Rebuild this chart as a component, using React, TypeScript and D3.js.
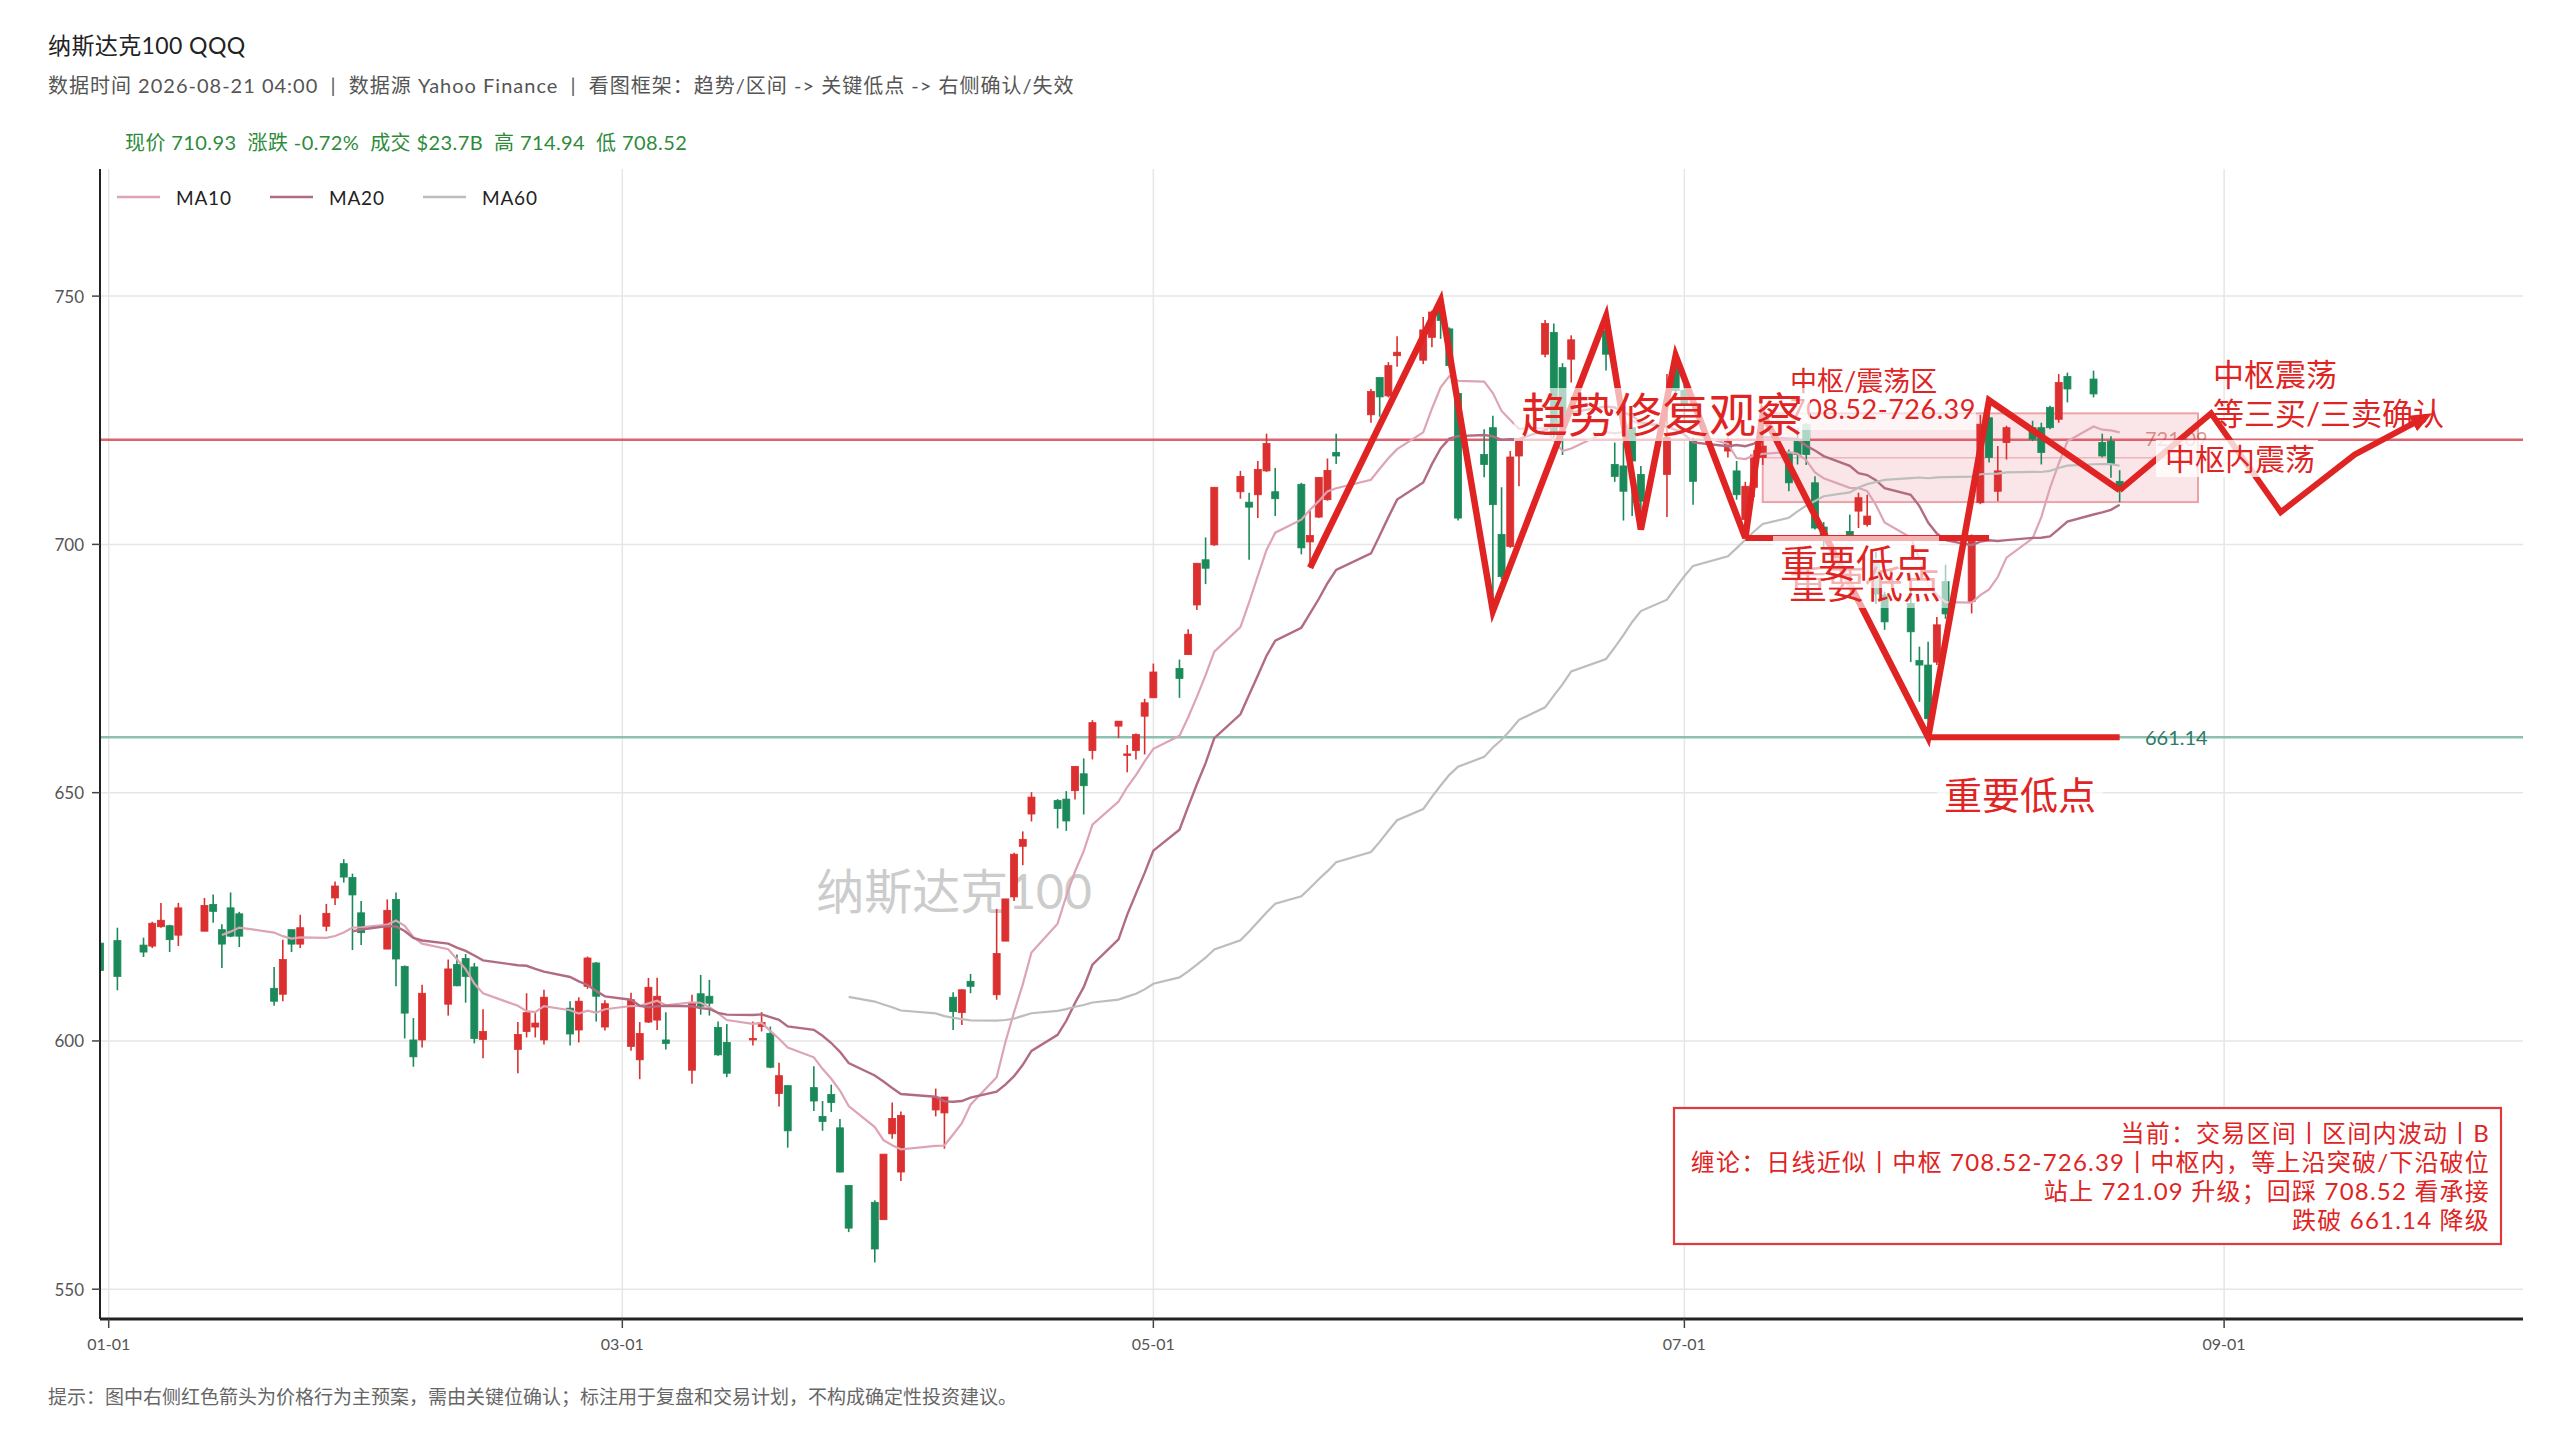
import React from "react";
import * as d3 from "d3";

// ---------------- data ----------------
const tradeDates = [
  "2025-12-31",
  "2026-01-02","2026-01-05","2026-01-06","2026-01-07","2026-01-08","2026-01-09","2026-01-12","2026-01-13","2026-01-14","2026-01-15","2026-01-16","2026-01-20","2026-01-21","2026-01-22","2026-01-23","2026-01-26","2026-01-27","2026-01-28","2026-01-29","2026-01-30",
  "2026-02-02","2026-02-03","2026-02-04","2026-02-05","2026-02-06","2026-02-09","2026-02-10","2026-02-11","2026-02-12","2026-02-13","2026-02-17","2026-02-18","2026-02-19","2026-02-20","2026-02-23","2026-02-24","2026-02-25","2026-02-26","2026-02-27",
  "2026-03-02","2026-03-03","2026-03-04","2026-03-05","2026-03-06","2026-03-09","2026-03-10","2026-03-11","2026-03-12","2026-03-13","2026-03-16","2026-03-17","2026-03-18","2026-03-19","2026-03-20","2026-03-23","2026-03-24","2026-03-25","2026-03-26","2026-03-27","2026-03-30","2026-03-31",
  "2026-04-01","2026-04-02","2026-04-06","2026-04-07","2026-04-08","2026-04-09","2026-04-10","2026-04-13","2026-04-14","2026-04-15","2026-04-16","2026-04-17","2026-04-20","2026-04-21","2026-04-22","2026-04-23","2026-04-24","2026-04-27","2026-04-28","2026-04-29","2026-04-30",
  "2026-05-01","2026-05-04","2026-05-05","2026-05-06","2026-05-07","2026-05-08","2026-05-11","2026-05-12","2026-05-13","2026-05-14","2026-05-15","2026-05-18","2026-05-19","2026-05-20","2026-05-21","2026-05-22","2026-05-26","2026-05-27","2026-05-28","2026-05-29",
  "2026-06-01","2026-06-02","2026-06-03","2026-06-04","2026-06-05","2026-06-08","2026-06-09","2026-06-10","2026-06-11","2026-06-12","2026-06-15","2026-06-16","2026-06-17","2026-06-18","2026-06-22","2026-06-23","2026-06-24","2026-06-25","2026-06-26","2026-06-29","2026-06-30",
  "2026-07-01","2026-07-02","2026-07-06","2026-07-07","2026-07-08","2026-07-09","2026-07-10","2026-07-13","2026-07-14","2026-07-15","2026-07-16","2026-07-17","2026-07-20","2026-07-21","2026-07-22","2026-07-23","2026-07-24","2026-07-27","2026-07-28","2026-07-29","2026-07-30","2026-07-31",
  "2026-08-03","2026-08-04","2026-08-05","2026-08-06","2026-08-07","2026-08-10","2026-08-11","2026-08-12","2026-08-13","2026-08-14","2026-08-17","2026-08-18","2026-08-19","2026-08-20",
];

const openPx = [
  619.7,
  620.2, 619.3, 619.1, 623.0, 623.2, 621.3, 622.1, 627.5, 622.4, 626.8, 625.6, 610.6, 609.4, 622.4, 619.5, 623.1, 628.8, 635.7, 632.9, 625.8,
  618.5, 628.5, 615.0, 600.2, 600.2, 607.4, 615.4, 616.6, 614.9, 600.3, 598.3, 601.9, 602.8, 600.2, 606.6, 602.2, 611.0, 615.7, 602.8,
  598.9, 596.2, 603.8, 604.2, 600.2, 594.1, 609.5, 609.0, 602.7, 599.7, 600.2, 602.9, 601.5, 589.4, 591.0, 590.6, 584.8, 589.2, 582.5, 570.9, 567.5, 564.0,
  581.3, 573.6, 586.1, 585.5, 608.8, 605.7, 612.0, 609.3, 620.1, 629.0, 639.2, 645.7, 648.4, 648.7, 650.4, 653.8, 658.5, 663.4, 657.5, 658.5, 665.4,
  669.1, 675.0, 677.8, 687.8, 696.9, 699.9, 710.6, 708.5, 710.0, 714.8, 710.6, 712.1, 700.5, 705.5, 709.0, 718.5, 726.1, 733.6, 729.9, 738.0,
  737.1, 741.7, 747.1, 743.4, 730.4, 718.1, 723.5, 702.0, 699.6, 717.8, 738.3, 742.7, 735.6, 737.3, 743.1, 716.1, 715.8, 723.5, 714.1, 714.1, 736.0,
  731.0, 720.8, 718.8, 714.8, 705.0, 711.5, 717.5, 718.5, 720.8, 724.2, 712.4, 703.5, 702.6, 706.7, 704.0, 696.5, 689.8, 688.1, 676.6, 675.7, 676.3, 692.5,
  688.5, 708.4, 725.5, 710.7, 720.5, 723.5, 723.5, 727.6, 725.2, 733.8, 733.3, 720.5, 720.8, 712.7,
];

const highPx = [
  620.5,
  622.8, 620.8, 624.0, 627.8, 623.4, 627.8, 628.8, 629.5, 623.5, 629.9, 626.0, 614.9, 620.4, 622.4, 625.4, 627.6, 632.1, 636.6, 633.7, 628.2,
  628.5, 629.9, 615.2, 604.6, 611.3, 616.4, 617.4, 617.5, 615.7, 606.4, 603.8, 609.6, 605.6, 610.3, 608.0, 608.8, 617.0, 615.9, 608.2,
  609.7, 603.8, 612.7, 612.7, 605.8, 609.3, 613.3, 612.3, 603.9, 603.4, 603.9, 605.8, 602.9, 595.6, 591.0, 594.9, 587.9, 591.2, 584.3, 570.9, 567.9, 577.2,
  587.6, 585.8, 590.4, 588.7, 609.8, 610.4, 613.5, 626.6, 628.6, 637.9, 642.2, 650.1, 648.7, 650.3, 655.3, 656.9, 664.6, 664.4, 659.6, 661.9, 668.9,
  676.0, 676.8, 682.9, 696.2, 701.4, 711.5, 714.8, 710.4, 716.8, 722.3, 715.4, 712.4, 706.7, 713.5, 717.3, 722.3, 731.3, 733.6, 736.7, 741.9,
  745.8, 747.1, 749.1, 743.7, 731.0, 723.2, 725.9, 711.5, 718.8, 721.2, 745.2, 744.5, 736.5, 742.1, 745.9, 720.5, 720.5, 723.5, 715.8, 734.3, 738.0,
  733.0, 721.5, 721.5, 716.8, 712.6, 719.0, 726.4, 719.1, 723.5, 724.5, 713.7, 704.5, 706.0, 710.4, 710.0, 698.5, 690.5, 694.5, 679.4, 680.4, 685.4, 695.9,
  702.0, 726.1, 729.0, 719.8, 723.9, 724.9, 724.5, 727.9, 734.3, 734.6, 735.0, 722.3, 721.8, 714.94,
];

const lowPx = [
  613.5,
  610.2, 616.9, 618.7, 622.8, 617.9, 619.1, 622.1, 623.8, 614.7, 620.9, 618.9, 607.1, 608.0, 617.9, 618.7, 622.1, 627.4, 631.9, 618.3, 619.3,
  618.5, 611.0, 600.5, 594.8, 598.7, 605.1, 611.0, 607.7, 599.5, 596.5, 593.5, 600.7, 600.7, 599.3, 599.1, 599.7, 610.5, 603.9, 602.1,
  598.0, 592.3, 603.6, 602.2, 598.3, 591.4, 605.3, 605.1, 597.0, 592.7, 599.1, 601.9, 594.5, 586.8, 578.5, 585.9, 581.9, 585.7, 573.5, 561.5, 555.4, 564.0,
  580.3, 571.8, 584.8, 578.3, 602.2, 603.2, 609.6, 608.3, 620.1, 628.2, 635.4, 644.2, 642.8, 642.3, 648.6, 645.6, 656.7, 661.0, 654.1, 656.7, 657.7,
  669.1, 669.1, 677.7, 686.8, 692.0, 699.7, 709.2, 696.9, 705.3, 714.6, 705.7, 698.0, 695.3, 705.3, 708.8, 716.2, 724.5, 725.7, 729.6, 735.8,
  736.3, 739.7, 741.4, 735.6, 704.8, 713.5, 686.6, 693.0, 699.3, 711.7, 737.7, 721.5, 718.0, 732.6, 735.0, 712.6, 704.8, 705.7, 703.0, 705.5, 729.0,
  725.0, 708.0, 717.5, 709.0, 701.3, 709.5, 716.0, 710.7, 716.1, 716.0, 703.0, 699.5, 700.6, 703.3, 703.6, 688.0, 682.8, 676.3, 668.3, 661.14, 675.7, 685.0,
  686.1, 708.1, 716.5, 708.7, 717.1, 720.8, 716.1, 723.2, 724.5, 728.6, 729.6, 717.5, 713.4, 708.52,
];

const closePx = [
  614.2,
  613.0, 617.9, 623.7, 624.3, 620.4, 626.8, 627.3, 626.1, 619.5, 621.1, 621.1, 608.0, 616.4, 619.5, 622.8, 625.7, 631.2, 633.0, 629.4, 621.8,
  626.3, 616.5, 605.6, 596.8, 609.6, 614.5, 611.1, 613.0, 600.5, 601.9, 601.3, 605.7, 603.6, 608.8, 601.4, 608.0, 616.7, 609.0, 607.5,
  608.3, 601.5, 610.8, 609.0, 599.5, 607.6, 607.0, 607.6, 597.2, 593.5, 600.5, 603.7, 594.7, 593.0, 581.9, 587.9, 583.8, 587.6, 573.6, 562.3, 558.1, 577.2,
  584.4, 585.0, 588.7, 588.7, 605.9, 610.3, 611.0, 617.6, 628.6, 637.6, 640.6, 649.1, 646.8, 644.3, 655.3, 651.4, 664.1, 664.4, 657.8, 661.7, 668.1,
  674.3, 673.0, 681.9, 696.2, 695.2, 711.5, 713.7, 707.5, 715.1, 720.3, 709.2, 699.3, 701.8, 713.5, 714.9, 717.8, 730.8, 729.7, 736.0, 738.7,
  743.2, 746.8, 745.1, 736.0, 705.3, 716.1, 708.0, 693.5, 717.6, 721.2, 744.5, 722.2, 723.5, 741.2, 738.3, 713.7, 710.7, 716.8, 708.7, 721.5, 731.0,
  728.0, 712.7, 720.8, 710.0, 711.7, 718.0, 719.8, 712.4, 718.1, 718.1, 703.3, 701.0, 701.6, 709.4, 705.7, 690.0, 684.4, 682.4, 675.7, 664.9, 683.8, 686.0,
  700.6, 724.2, 717.5, 714.8, 723.5, 721.2, 718.5, 723.5, 732.6, 731.3, 730.3, 717.8, 716.09, 710.93,
];

const maPeriods = [10, 20, 60];
const maColors = ["#dca4b4", "#b26c82", "#bdbdbd"];

// swing path (red zigzag)
const swingDates = ["2026-05-19", "2026-06-03", "2026-06-09", "2026-06-22", "2026-06-26", "2026-06-30", "2026-07-08", "2026-07-10", "2026-07-29", "2026-08-05", "2026-08-20"];
const swingValues = [695.3, 749.1, 686.6, 745.9, 703.0, 738.0, 701.3, 726.4, 661.14, 729.0, 710.93];

// key lows
const keyLowStart = ["2026-07-08", "2026-07-29"];
const keyLowEnd = ["2026-08-05", "2026-08-20"];
const keyLowValues = [701.3, 661.14];

// central pivot zone
const zoneLow = 708.52;
const zoneHigh = 726.39;
const zoneStart = "2026-07-10";
const zoneEnd = "2026-08-29";

// levels
const resistLevel = 721.09;
const supportLevel = 661.14;

// projection
const projDates = ["2026-08-20", "2026-08-30T12:00", "2026-09-07T12:00", "2026-09-16", "2026-09-24T06:00"];
const projValues = [710.93, 726.39, 706.5, 718.1, 725.8];

const yTicks = [550, 600, 650, 700, 750];
const xTickDates = ["2026-01-01", "2026-03-01", "2026-05-01", "2026-07-01", "2026-09-01"];

const infoLines = [
  "当前：交易区间丨区间内波动丨B",
  "缠论：日线近似丨中枢 708.52-726.39丨中枢内，等上沿突破/下沿破位",
  "站上 721.09 升级；回踩 708.52 看承接",
  "跌破 661.14 降级",
];

// ---------------- layout ----------------
const W = 2560;
const H = 1440;
const L = 100, R = 2523, T = 169, B = 1319;
const FONT = "Lato, 'Noto Sans CJK SC', 'Noto Sans', sans-serif";
const UP = "#dc2f2f";
const DOWN = "#1b8a5a";
const ANN = "#e02424";

const parse = (s: string) => {
  const [d, t] = s.split("T");
  const [yy, mm, dd] = d.split("-").map(Number);
  let hh = 0, mi = 0;
  if (t) { const p = t.split(":").map(Number); hh = p[0]; mi = p[1] || 0; }
  return new Date(yy, mm - 1, dd, hh, mi);
};

const x = d3.scaleTime().domain([new Date(2025, 11, 31), new Date(2026, 9, 5, 8)]).range([L, R]);
const y = d3.scaleLinear().domain([544, 775.6]).range([B, T]);

const bars = tradeDates.map((d, i) => ({
  date: parse(d), o: openPx[i], h: highPx[i], l: lowPx[i], c: closePx[i],
}));

const maSeries = maPeriods.map((n) =>
  closePx.map((_, i) => (i < n - 1 ? null : (d3.mean(closePx.slice(i - n + 1, i + 1)) as number)))
);

const lineGen = d3
  .line<{ date: Date; v: number | null }>()
  .defined((d) => d.v != null)
  .x((d) => x(d.date))
  .y((d) => y(d.v as number));

const simpleLine = d3.line<[Date, number]>().x((d) => x(d[0])).y((d) => y(d[1]));

function LabelBox({ x0, y0, w, h, op = 0.65 }: any) {
  return <rect x={x0} y={y0} width={w} height={h} fill="#ffffff" opacity={op} />;
}

export default function App() {
  const cw = 7;
  return (
    <div style={{ position: "absolute", left: 0, top: 0, width: W, height: H }}>
      <svg width={W} height={H} viewBox={`0 0 ${W} ${H}`} style={{ display: "block", background: "#fff" }} fontFamily={FONT}>
        <defs>
          <clipPath id="plot">
            <rect x={L} y={T} width={R - L} height={B - T} />
          </clipPath>
          <marker id="arrow" viewBox="0 0 10 10" refX="7" refY="5" markerWidth="22" markerHeight="22" markerUnits="userSpaceOnUse" orient="auto">
            <path d="M0,1 L10,5 L0,9 z" fill={ANN} />
          </marker>
        </defs>
        <rect x={0} y={0} width={W} height={H} fill="#fff" />

        {/* header */}
        <text x={48} y={54} fontSize={23} fill="#222" letterSpacing={0.4}>纳斯达克100 QQQ</text>
        <text x={48} y={93} fontSize={20} fill="#555" xmlSpace="preserve" letterSpacing={1}>
          数据时间 2026-08-21 04:00  |  数据源 Yahoo Finance  |  看图框架：趋势/区间 -&gt; 关键低点 -&gt; 右侧确认/失效
        </text>
        <text x={125} y={150} fontSize={20} fill="#2e8b3a" xmlSpace="preserve" letterSpacing={0.4}>
          现价 710.93  涨跌 -0.72%  成交 $23.7B  高 714.94  低 708.52
        </text>

        {/* grid */}
        {yTicks.map((t) => (
          <line key={"gy" + t} x1={L} x2={R} y1={y(t)} y2={y(t)} stroke="#e6e6e6" strokeWidth={1.5} />
        ))}
        {xTickDates.map((t) => (
          <line key={"gx" + t} x1={x(parse(t))} x2={x(parse(t))} y1={T} y2={B} stroke="#e6e6e6" strokeWidth={1.5} />
        ))}

        {/* watermark */}
        <text x={954} y={890} fontSize={48} fill="#cccccc" textAnchor="middle" dominantBaseline="central">纳斯达克100</text>

        <g clipPath="url(#plot)">
          {/* central zone */}
          <rect
            x={x(parse(zoneStart))}
            y={y(zoneHigh)}
            width={x(parse(zoneEnd)) - x(parse(zoneStart))}
            height={y(zoneLow) - y(zoneHigh)}
            fill="#f6d2d5"
            fillOpacity={0.55}
            stroke="#eba3a8"
            strokeWidth={2}
          />
          <line
            x1={x(parse(zoneStart))}
            x2={x(parse(zoneEnd))}
            y1={y((zoneLow + zoneHigh) / 2)}
            y2={y((zoneLow + zoneHigh) / 2)}
            stroke="#f0b4b8"
            strokeWidth={1.5}
          />
          {/* levels */}
          <line x1={L} x2={R} y1={y(resistLevel)} y2={y(resistLevel)} stroke="#d9535f" strokeWidth={2.5} strokeOpacity={0.9} />
          <line x1={L} x2={R} y1={y(supportLevel)} y2={y(supportLevel)} stroke="#8dbfb2" strokeWidth={2.5} />

          {/* candles */}
          {bars.map((b, i) => {
            const col = b.c >= b.o ? UP : DOWN;
            const cx = x(b.date);
            const top = y(Math.max(b.o, b.c));
            const bot = y(Math.min(b.o, b.c));
            return (
              <g key={"c" + i}>
                <line x1={cx} x2={cx} y1={y(b.h)} y2={y(b.l)} stroke={col} strokeWidth={1.6} />
                <rect x={cx - cw / 2} y={top} width={cw} height={Math.max(1.5, bot - top)} fill={col} stroke={col} strokeWidth={0.8} />
              </g>
            );
          })}

          {/* moving averages */}
          {maSeries.map((s, k) => (
            <path
              key={"ma" + k}
              d={lineGen(s.map((v, i) => ({ date: bars[i].date, v }))) || ""}
              fill="none"
              stroke={maColors[k]}
              strokeWidth={k === 1 ? 2.4 : 2.2}
            />
          ))}

          {/* swing zigzag */}
          <path
            d={simpleLine(swingDates.map((d, i) => [parse(d), swingValues[i]] as [Date, number])) || ""}
            fill="none"
            stroke={ANN}
            strokeWidth={6.5}
            strokeLinejoin="miter"
          />
          {/* key low lines */}
          {keyLowValues.map((v, i) => (
            <line key={"kl" + i} x1={x(parse(keyLowStart[i]))} x2={x(parse(keyLowEnd[i]))} y1={y(v)} y2={y(v)} stroke={ANN} strokeWidth={6} />
          ))}
          {/* projection */}
          <path
            d={simpleLine(projDates.map((d, i) => [parse(d), projValues[i]] as [Date, number])) || ""}
            fill="none"
            stroke={ANN}
            strokeWidth={6}
            strokeLinejoin="miter"
            markerEnd="url(#arrow)"
          />
        </g>

        {/* level labels */}
        <text x={2145} y={y(resistLevel) - 2} fontSize={20} fill="#c0392b" fillOpacity={0.55} dominantBaseline="central">721.09</text>
        <text x={2145} y={y(supportLevel)} fontSize={20} fill="#2f7a68" dominantBaseline="central">661.14</text>

        {/* annotation labels */}
        <LabelBox x0={1784} y0={363} w={192} h={67} op={0.6} />
        <text x={1790} y={380} fontSize={27} fill={ANN} dominantBaseline="central">中枢/震荡区</text>
        <text x={1790} y={408} fontSize={27} fill={ANN} dominantBaseline="central" letterSpacing={0.5}>708.52-726.39</text>

        <LabelBox x0={1514} y0={388} w={296} h={53} op={0.65} />
        <text x={1662} y={414} fontSize={47} fill={ANN} textAnchor="middle" dominantBaseline="central">趋势修复观察</text>

        <LabelBox x0={1782} y0={558} w={166} h={50} op={0.6} />
        <text x={1865} y={583} fontSize={38} fill={ANN} textAnchor="middle" dominantBaseline="central">重要低点</text>
        <LabelBox x0={1773} y0={536} w={166} h={52} op={0.65} />
        <text x={1856} y={562} fontSize={38} fill={ANN} textAnchor="middle" dominantBaseline="central">重要低点</text>

        <LabelBox x0={1937} y0={769} w={166} h={50} op={0.6} />
        <text x={2020} y={794} fontSize={38} fill={ANN} textAnchor="middle" dominantBaseline="central">重要低点</text>

        <text x={2213} y={374} fontSize={31} fill={ANN} dominantBaseline="central">中枢震荡</text>
        <text x={2213} y={413} fontSize={31} fill={ANN} dominantBaseline="central">等三买/三卖确认</text>

        <LabelBox x0={2156} y0={440} w={162} h={37} op={0.78} />
        <text x={2165} y={458} fontSize={30} fill={ANN} dominantBaseline="central">中枢内震荡</text>

        {/* legend */}
        {maPeriods.map((n, k) => (
          <g key={"lg" + n} transform={`translate(${117 + k * 153},197)`}>
            <line x1={0} x2={43} y1={0} y2={0} stroke={maColors[k]} strokeWidth={2.6} />
            <text x={59} y={0} fontSize={19} fill="#222" dominantBaseline="central" letterSpacing={0.8}>{"MA" + n}</text>
          </g>
        ))}

        {/* axes */}
        <line x1={L} x2={L} y1={T} y2={B} stroke="#222" strokeWidth={2} />
        <line x1={L} x2={R} y1={B} y2={B} stroke="#222" strokeWidth={3} />
        {yTicks.map((t) => (
          <g key={"yt" + t}>
            <line x1={L - 8} x2={L} y1={y(t)} y2={y(t)} stroke="#444" strokeWidth={1.5} />
            <text x={L - 16} y={y(t)} fontSize={17} fill="#555" textAnchor="end" dominantBaseline="central">{t}</text>
          </g>
        ))}
        {xTickDates.map((t) => {
          const d = parse(t);
          return (
            <g key={"xt" + t}>
              <line x1={x(d)} x2={x(d)} y1={B} y2={B + 9} stroke="#444" strokeWidth={1.5} />
              <text x={x(d)} y={B + 24} fontSize={16} fill="#555" textAnchor="middle" dominantBaseline="central">{d3.timeFormat("%m-%d")(d)}</text>
            </g>
          );
        })}

        {/* info box */}
        <rect x={1674} y={1108} width={827} height={136} fill="#fff" stroke="#e03a3a" strokeWidth={2.2} />
        {infoLines.map((s, i) => (
          <text key={"info" + i} x={2490} y={1132 + i * 29} fontSize={24} fill={ANN} textAnchor="end" dominantBaseline="central" letterSpacing={1.2}>{s}</text>
        ))}

        {/* footnote */}
        <text x={48} y={1396} fontSize={19} fill="#666" dominantBaseline="central">
          提示：图中右侧红色箭头为价格行为主预案，需由关键位确认；标注用于复盘和交易计划，不构成确定性投资建议。
        </text>
      </svg>
    </div>
  );
}
